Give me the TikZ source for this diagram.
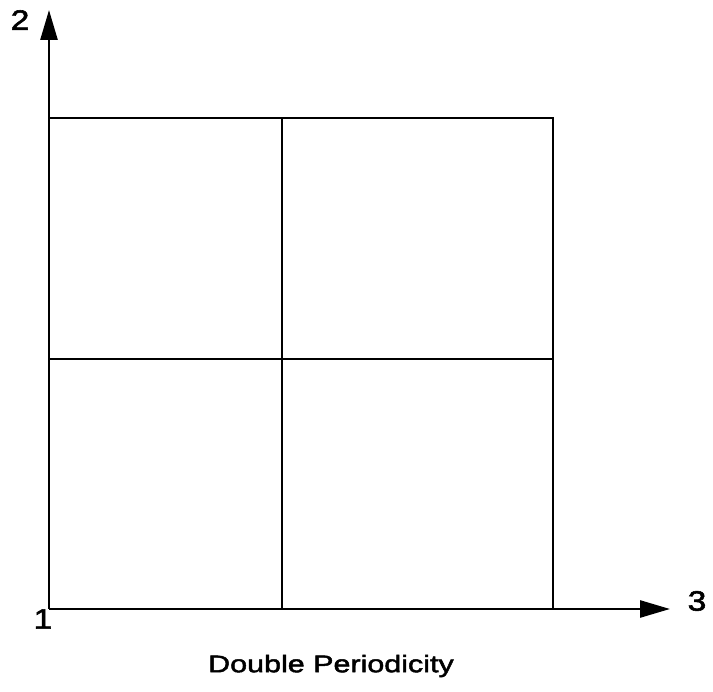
\documentclass[tikz,border=0pt]{standalone}
\usepackage{fontspec}
\setmainfont{Liberation Sans}
\newfontfamily\heavyfont{Liberation Sans}[FakeBold=2,FakeStretch=1.2]
\newfontfamily\titlefont{Liberation Sans}[FakeBold=2,FakeStretch=1.27]
\usetikzlibrary{arrows.meta}
\begin{document}
\begin{tikzpicture}[x=1pt,y=-1pt,
  gridline/.style={line width=2.4pt},
  axisline/.style={line width=2.6pt,-{Triangle[length=30pt,width=17pt]}},
  lbl/.style={inner sep=0pt,font=\heavyfont\fontsize{28}{30}\selectfont},
  ttl/.style={inner sep=0pt,font=\titlefont\fontsize{24}{26}\selectfont}]
\useasboundingbox (0,0) rectangle (713,692);
\coordinate (O) at (49,609);
\coordinate (Ytip) at (49,10);
\coordinate (Xtip) at (670,609);
\coordinate (TL) at (49,118);
\coordinate (TR) at (553,118);
\coordinate (BR) at (553,609);
\coordinate (TM) at (282,118);
\coordinate (BM) at (282,609);
\coordinate (ML) at (49,359);
\coordinate (MR) at (553,359);
\draw[gridline] (TL) -- (TR) -- (BR);
\draw[gridline] (TM) -- (BM);
\draw[gridline] (ML) -- (MR);
\draw[axisline] (O) -- (Ytip);
\draw[axisline] (O) -- (Xtip);
\node[lbl] (l2) at (20,20) {2};
\node[lbl] (l1) at (43,619) {1};
\node[lbl] (l3) at (697,601) {3};
\node[ttl] (title) at (331,666) {Double Periodicity};
\end{tikzpicture}
\end{document}
